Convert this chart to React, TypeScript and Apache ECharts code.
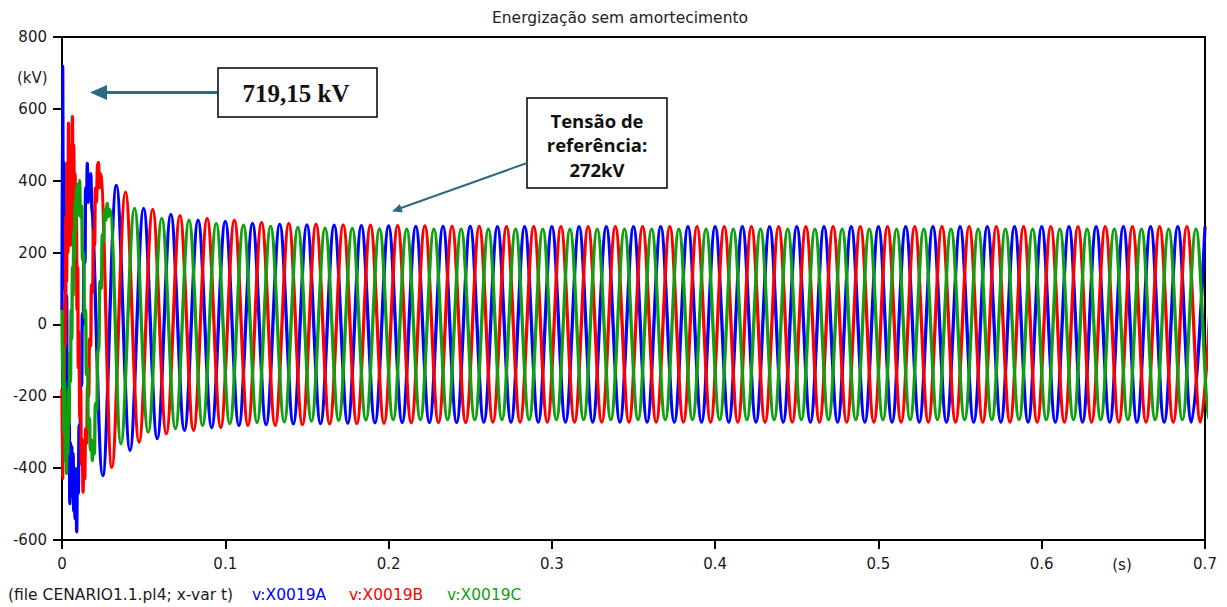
import React, { useEffect, useRef } from "react";
import * as echarts from "echarts";

// 60 Hz system: one extremum every half cycle, phases 120° apart
const HALF_CYCLE = 1 / 120;
const PHASE_SHIFT = 1 / 180;
const FIRST_K = 3;

const TITLE = "Energização sem amortecimento";
const X_MAX = 0.7;
const Y_MIN = -600;
const Y_MAX = 800;

const seriesNames = ["v:X0019A", "v:X0019B", "v:X0019C"];
const seriesColors = ["#0000ff", "#ff0000", "#10a010"];

// energization transient (t, kV) with its high-frequency ringing
const earlyA: [number, number][] = [
  [0, 40], [0.0004, 719.15], [0.0008, 250], [0.0012, 450], [0.0016, 100],
  [0.002, 260], [0.0024, -60], [0.0028, 80], [0.0032, -250], [0.0036, -120],
  [0.004, -400], [0.0044, -260], [0.0048, -499], [0.0052, -330], [0.0056, -470],
  [0.006, -340], [0.0064, -480], [0.0068, -360], [0.0072, -520], [0.0076, -400],
  [0.008, -540], [0.0085, -420], [0.009, -577], [0.0095, -400], [0.01, -470],
  [0.0105, -280], [0.011, -330], [0.0115, -140], [0.012, -170], [0.0125, 30],
  [0.013, 0], [0.0135, 200], [0.014, 170], [0.0145, 380], [0.015, 340],
  [0.0155, 448], [0.016, 340], [0.0165, 400], [0.017, 360], [0.0176, 420],
  [0.0182, 330], [0.0188, 300],
];
const earlyB: [number, number][] = [
  [0, -180], [0.0004, -429], [0.0008, -200], [0.0012, -300], [0.0016, 60],
  [0.002, -60], [0.0024, 300], [0.0028, 120], [0.0032, 450], [0.0036, 200],
  [0.004, 560], [0.0044, 250], [0.0048, 480], [0.0052, 220], [0.0056, 500],
  [0.006, 260], [0.0064, 579], [0.0068, 300], [0.0072, 500], [0.0076, 240],
  [0.008, 420], [0.0084, 160], [0.0088, 300], [0.0092, 40], [0.0096, 160],
  [0.01, -120], [0.0104, -20], [0.0109, -260], [0.0114, -180], [0.0119, -390],
  [0.0124, -320], [0.0129, -467], [0.0134, -360], [0.0139, -430], [0.0145, -290],
  [0.0151, -330], [0.0157, -170], [0.0163, -200], [0.0169, -40], [0.0175, -60],
  [0.0181, 110], [0.0187, 90], [0.0193, 260], [0.0199, 220], [0.0205, 380],
  [0.0211, 340], [0.0217, 440], [0.0223, 451], [0.0229, 380], [0.0235, 420],
];
const earlyC: [number, number][] = [
  [0, 40], [0.0004, -180], [0.0008, -60], [0.0012, -300], [0.0016, -160],
  [0.002, -380], [0.0024, -250], [0.0028, -415], [0.0032, -260], [0.0036, -360],
  [0.004, -180], [0.0044, -280], [0.0048, -80], [0.0052, -160], [0.0056, 40],
  [0.006, -40], [0.0064, 160], [0.0068, 80], [0.0072, 260], [0.0076, 180],
  [0.008, 340], [0.0084, 260], [0.0088, 380], [0.0092, 300], [0.0097, 390],
  [0.0102, 320], [0.0108, 401], [0.0114, 300], [0.012, 330], [0.0126, 180],
  [0.0132, 200], [0.0138, 20], [0.0144, 40], [0.015, -140], [0.0156, -120],
  [0.0162, -290], [0.0168, -260], [0.0174, -350], [0.018, -320], [0.0186, -379],
  [0.0192, -330], [0.0198, -360], [0.0205, -220], [0.0212, -240], [0.0219, -80],
  [0.0226, -60], [0.0233, 120], [0.024, 100], [0.0247, 250], [0.0254, 230],
  [0.0261, 320], [0.0268, 290], [0.0277, 337], [0.0285, 300], [0.0293, 320],
];

// half-cycle extrema (kV) from k = 3 onwards
const peaksA = [
  -421, 387, -351, 323, -318, 306, -295, 290, -287, 287,
  -281, 281, -279, 279, -277, 277, -276, 276, -275, 275,
  -274, 274, -273, 273, -273, 273, -273, 273, -272, 272,
  -272, 272, -272, 272, -272, 272, -272, 272, -272, 272,
  -272, 272, -272, 272, -272, 272, -272, 272, -272, 272,
  -272, 272, -272, 272, -272, 272, -272, 272, -272, 272,
  -272, 272, -272, 272, -272, 272, -272, 272, -272, 272,
  -272, 272, -272, 272, -272, 272, -272, 272, -272, 272,
  -272, 272,
];
const peaksB = [
  -398, 368, -328, 320, -304, 303, -295, 295, -287, 290,
  -281, 284, -281, 281, -279, 279, -277, 277, -276, 276,
  -275, 275, -274, 274, -273, 273, -273, 273, -272, 272,
  -272, 272, -272, 272, -272, 272, -272, 272, -272, 272,
  -272, 272, -272, 272, -272, 272, -272, 272, -272, 272,
  -272, 272, -272, 272, -272, 272, -272, 272, -272, 272,
  -272, 272, -272, 272, -272, 272, -272, 272, -272, 272,
  -272, 272, -272, 272, -272, 272, -272, 272, -272, 272,
  -272, 272,
];
const peaksC = [
  -332, 323, -300, 295, -290, 290, -281, 281, -276, 276,
  -273, 273, -271, 270, -269, 268, -267, 267, -266, 266,
  -265, 265, -265, 265, -265, 265, -265, 265, -265, 265,
  -265, 265, -265, 265, -265, 265, -265, 265, -265, 265,
  -265, 265, -265, 265, -265, 265, -265, 265, -265, 265,
  -265, 265, -265, 265, -265, 265, -265, 265, -265, 265,
  -265, 265, -265, 265, -265, 265, -265, 265, -265, 265,
  -265, 265, -265, 265, -265, 265, -265, 265, -265, 265,
  -265, 265,
];

const phaseData = (early: [number, number][], peaks: number[], phase: number) =>
  early.concat(
    peaks.map((v, i) => [phase * PHASE_SHIFT + (FIRST_K + i) * HALF_CYCLE, v] as [number, number])
  );

const waveforms = [
  phaseData(earlyA, peaksA, 0),
  phaseData(earlyB, peaksB, 1),
  phaseData(earlyC, peaksC, 2),
];

const SANS = "DejaVu Sans";
const ARROW = "#2b6a84";

export default function App() {
  const ref = useRef<HTMLDivElement>(null);

  useEffect(() => {
    if (!ref.current) return;
    const chart = echarts.init(ref.current, null, { renderer: "svg" });

    const axisText = { color: "#1a1a1a", fontSize: 15, fontFamily: SANS };

    chart.setOption({
      animation: false,
      backgroundColor: "#ffffff",
      textStyle: { fontFamily: SANS },
      grid: {
        left: 62,
        right: 22,
        top: 37,
        bottom: 67,
        show: true,
        borderColor: "#000",
        borderWidth: 2,
      },
      xAxis: {
        type: "value",
        min: 0,
        max: X_MAX,
        interval: 0.1,
        axisLine: { onZero: false, lineStyle: { color: "#000", width: 2 } },
        axisTick: { length: 9, lineStyle: { color: "#000", width: 2 } },
        axisLabel: { ...axisText, margin: 16, showMinLabel: true, showMaxLabel: true },
        splitLine: { show: false },
      },
      yAxis: {
        type: "value",
        min: Y_MIN,
        max: Y_MAX,
        interval: 200,
        axisLine: { show: true, onZero: false, lineStyle: { color: "#000", width: 2 } },
        axisTick: { show: true, length: 9, lineStyle: { color: "#000", width: 2 } },
        axisLabel: { ...axisText, margin: 15 },
        splitLine: { show: false },
      },
      series: waveforms.map((data, i) => ({
        type: "line",
        name: seriesNames[i],
        data,
        symbol: "none",
        showSymbol: false,
        smooth: 0.36,
        clip: true,
        lineStyle: { color: seriesColors[i], width: 3.3 },
        itemStyle: { color: seriesColors[i] },
        z: 2 + i,
      })),
      graphic: [
        {
          type: "text", x: 620, y: 18, silent: true,
          style: { text: TITLE, fill: "#222", fontSize: 15.5, fontFamily: SANS, align: "center", verticalAlign: "middle" },
        },
        {
          type: "text", x: 17, y: 78, silent: true,
          style: { text: "(kV)", fill: "#1a1a1a", fontSize: 15, fontFamily: SANS, align: "left", verticalAlign: "middle" },
        },
        {
          type: "text", x: 1122, y: 565, silent: true,
          style: { text: "(s)", fill: "#1a1a1a", fontSize: 15, fontFamily: SANS, align: "center", verticalAlign: "middle" },
        },
        {
          type: "text", x: 8, y: 595, silent: true,
          style: { text: "(file CENARIO1.1.pl4; x-var t)", fill: "#1a1a1a", fontSize: 15.5, fontFamily: SANS, verticalAlign: "middle" },
        },
        ...seriesNames.map((name, i) => ({
          type: "text", x: [252, 349, 447][i], y: 595, silent: true,
          style: { text: name, fill: seriesColors[i], fontSize: 15.5, fontFamily: SANS, verticalAlign: "middle" },
        })),
        // peak annotation
        {
          type: "rect", silent: true, z: 10,
          shape: { x: 218, y: 68, width: 159, height: 49 },
          style: { fill: "#fff", stroke: "#000", lineWidth: 1.5 },
        },
        {
          type: "text", x: 296, y: 93, silent: true, z: 11,
          style: { text: "719,15 kV", fill: "#111", fontSize: 25, fontWeight: "bold", fontFamily: "Liberation Serif", align: "center", verticalAlign: "middle" },
        },
        {
          type: "line", silent: true, z: 10,
          shape: { x1: 217, y1: 92.5, x2: 104, y2: 92.5 },
          style: { stroke: ARROW, lineWidth: 3 },
        },
        {
          type: "polygon", silent: true, z: 10,
          shape: { points: [[90, 92.5], [107, 85], [107, 100]] },
          style: { fill: ARROW },
        },
        // reference voltage annotation
        {
          type: "rect", silent: true, z: 10,
          shape: { x: 527, y: 98, width: 140, height: 90 },
          style: { fill: "#fff", stroke: "#000", lineWidth: 1.5 },
        },
        ...["Tensão de", "referência:", "272kV"].map((line, i) => ({
          type: "text", x: 597, y: 120 + i * 24.5, silent: true, z: 11,
          style: { text: line, fill: "#111", fontSize: 18.5, fontWeight: "bold", fontFamily: "Open Sans", align: "center", verticalAlign: "middle" },
        })),
        {
          type: "line", silent: true, z: 10,
          shape: { x1: 527, y1: 163, x2: 401, y2: 208 },
          style: { stroke: ARROW, lineWidth: 2 },
        },
        {
          type: "polygon", silent: true, z: 10,
          shape: { points: [[392, 211.5], [399.9, 203.9], [402.9, 212.3]] },
          style: { fill: ARROW },
        },
      ],
    });

    return () => chart.dispose();
  }, []);

  return (
    <div
      ref={ref}
      style={{ position: "absolute", left: 0, top: 0, width: 1227, height: 607, background: "#fff" }}
    />
  );
}
